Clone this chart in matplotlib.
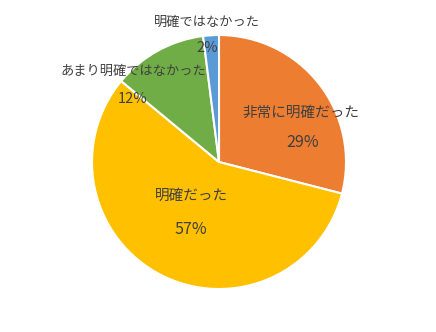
import matplotlib
matplotlib.use("Agg")
import matplotlib.pyplot as plt

plt.rcParams['font.family'] = ['Noto Sans CJK JP', 'DejaVu Sans']

# Data
labels = ['非常に明確だった', '明確だった', 'あまり明確ではなかった', '明確ではなかった']
values = [29, 57, 12, 2]
colors = ['#ED7D31', '#FFC000', '#70AD47', '#5B9BD5']

# Label positions (axes data units, pie radius = 1)
name_pos = [(0.646, 0.39), (-0.22, -0.27), (-0.677, 0.71), (-0.094, 1.10)]
pct_pos = [(0.66, 0.15), (-0.22, -0.53), (-0.68, 0.50), (-0.09, 0.90)]
inside = [True, True, False, False]

fig = plt.figure(figsize=(4.36, 3.32), dpi=100)
ax = fig.add_axes([0.211, 0.1295, 0.5826, 0.765])

ax.pie(values, colors=colors, startangle=90, counterclock=False,
       wedgeprops=dict(edgecolor='white', linewidth=1.5))
ax.set_xlim(-1, 1)
ax.set_ylim(-1, 1)

for lab, v, npos, ppos, ins in zip(labels, values, name_pos, pct_pos, inside):
    fs = 10.5 if ins else 9.5
    pfs = 11.5 if ins else 10.5
    ax.text(npos[0], npos[1], lab, ha='center', va='center', fontsize=fs, color='#404040')
    ax.text(ppos[0], ppos[1], f'{v}%', ha='center', va='center', fontsize=pfs, color='#404040')

fig.savefig('out.png', dpi=100)
